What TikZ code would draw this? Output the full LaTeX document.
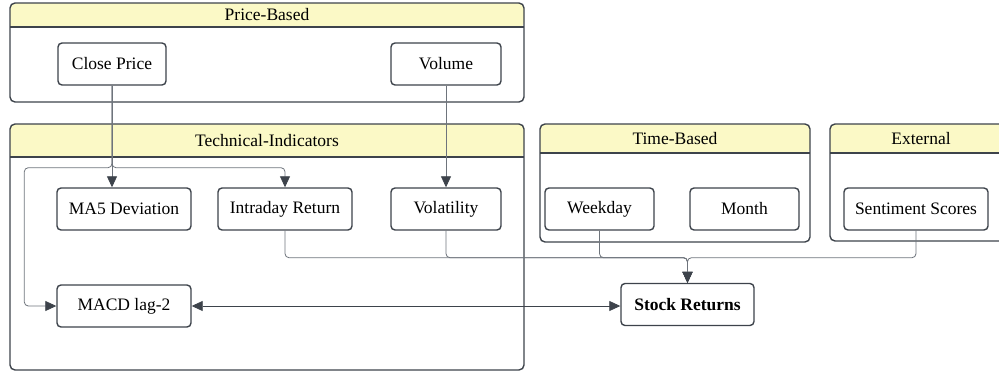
\documentclass[tikz,border=0pt]{standalone}
\usepackage{fontspec}
\setmainfont{Liberation Serif}
\usepackage{tikz}
\usetikzlibrary{arrows.meta,positioning,calc}

\definecolor{edge}{HTML}{3D434B}
\definecolor{wire}{HTML}{6E747C}
\definecolor{headfill}{HTML}{FBF9C6}

\begin{document}
\begin{tikzpicture}[
    x=1pt, y=-1pt,
    feat/.style={rectangle, draw=edge, fill=white, line width=1.4pt, rounded corners=4pt, align=center, minimum height=42pt, minimum width=134pt, inner sep=0pt, font=\fontsize{17.5}{20}\selectfont},
    title/.style={inner sep=0pt, font=\fontsize{17.5}{20}\selectfont},
    group/.style={draw=edge, line width=1.4pt, rounded corners=5pt},
    arrow/.style={-{Triangle[length=11pt, width=10pt, color=edge]}, line width=0.8pt, draw=wire, rounded corners=4pt},
    link/.style={{Triangle[length=11pt, width=10pt, color=edge]}-{Triangle[length=11pt, width=10pt, color=edge]}, line width=0.8pt, draw=edge}
]
    \clip (0,0) rectangle (999,372);

    % groups: left/top/right/bottom/header bottom
    \foreach \l/\t/\r/\b/\h/\n/\txt in {10/3/524/102/27/pbased/Price-Based, 10/124/524/370/157/techind/Technical-Indicators, 540/124/810/242/153/tbased/Time-Based, 830/124/1012/241/153/ext/External}{
        \fill[headfill, rounded corners=5pt] (\l,\h) |- (\r,\t) -- (\r,\h) [sharp corners] -- cycle;
        \draw[group] (\l,\t) rectangle (\r,\b);
        \draw[group] (\l,\h) -- (\r,\h);
        \node[title] (\n) at ({(\l+\r)/2},{(\t+\h)/2}) {\txt};
    }

    \node [feat, minimum width=108pt] (close) at (112,64) {Close Price};
    \node [feat, minimum width=110pt] (volume) at (446,64) {Volume};

    \node [feat] (ma5) at (124,209) {MA5 Deviation};
    \node [feat] (intra) at (285,209) {Intraday Return};
    \node [feat, minimum width=110pt] (volat) at (446,209) {Volatility};
    \node [feat] (macd) at (124,306) {MACD lag-2};

    \node [feat, minimum width=109pt] (weekday) at (599.5,209) {Weekday};
    \node [feat, minimum width=109pt] (month) at (744.5,209) {Month};
    \node [feat, minimum width=144pt] (sent) at (916,209) {Sentiment Scores};

    \node [feat, minimum width=133pt] (stock) at (687.5,304.5) {\textbf{Stock Returns}};

    \draw [arrow] (close.south) -- (close.south |- ma5.north);
    \draw [arrow] (close.south) -- ++(0,82) -| (intra.north);
    \draw [arrow] (close.south) -- ++(0,82) -| ([xshift=-32pt]macd.west) -- (macd.west);
    \draw [arrow] (volume) -- (volat);

    \draw [arrow] (intra.south) -- ++(0,27) -| (stock.north);
    \draw [arrow] (volat.south) -- ++(0,27) -| (stock.north);
    \draw [arrow] (weekday.south) -- ++(0,27) -| (stock.north);
    \draw [arrow] (sent.south) -- ++(0,27) -| (stock.north);

    \draw [link] (macd.east) -- (macd.east -| stock.west);
\end{tikzpicture}
\end{document}
